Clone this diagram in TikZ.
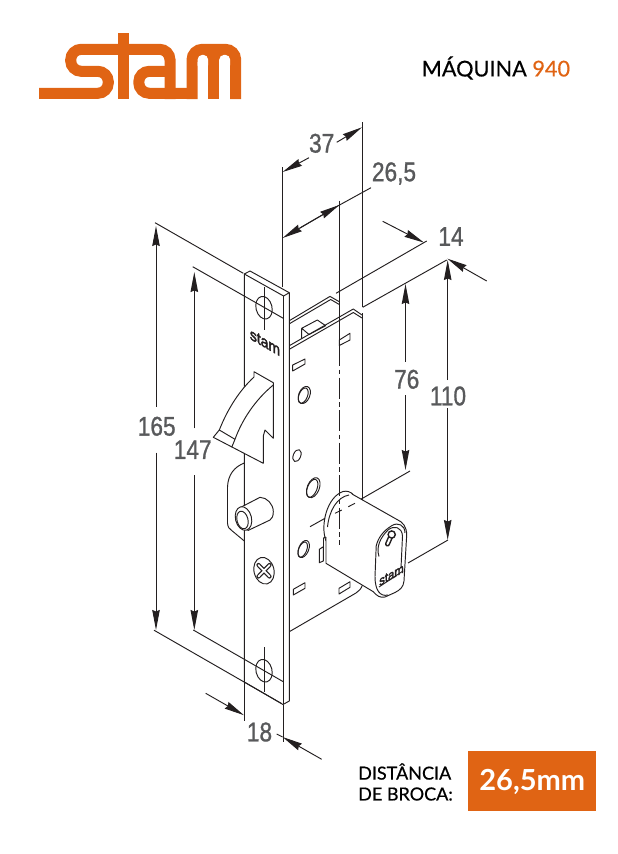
\documentclass[tikz,border=0pt]{standalone}
\usepackage{fontspec}
\usepackage{graphicx}
\usetikzlibrary{arrows.meta}
\setmainfont{Lato}
\newfontfamily\dimfont[FakeBold=1.1]{Liberation Sans}
\newfontfamily\medfont[FakeBold=0.5]{Lato}
\newfontfamily\logofont[FakeBold=3]{Liberation Sans}
\definecolor{ink}{HTML}{231F20}
\definecolor{brand}{HTML}{E06414}
\definecolor{dimgray}{HTML}{58595B}
\newcommand{\dimtext}[1]{\scalebox{0.84}[1]{\fontsize{27}{28}\dimfont #1}}
\tikzset{
  inkline/.style={draw=ink,line width=0.95pt,line join=round},
  partfill/.style={inkline,fill=white},
  dimline/.style={draw=ink,line width=0.95pt},
  dimarrow/.style={dimline,-{Stealth[length=20pt,width=7.5pt,inset=1.5pt]}},
  dimlabel/.style={text=dimgray,inner sep=0pt,anchor=center},
  logostroke/.style={draw=brand,line width=11pt,rounded corners=10.5pt},
  logostem/.style={draw=brand,line width=11pt},
}
\begin{document}
\begin{tikzpicture}[x=1pt,y=-1pt]
\useasboundingbox (0,0) rectangle (618,854);
% ---------- logo
\draw[logostroke] (39,93.3)--(108.3,93.3)--(108.3,71.3)--(70.7,71.3)--(70.7,49.3)--(170,49.3)--(170,99);
\draw[logostem] (123.7,33.3)--(123.7,99);
\draw[logostroke] (170,71.3)--(138.8,71.3)--(138.8,93.3)--(192,93.3);
\draw[logostroke] (192,99)--(192,49.3)--(235.7,49.3)--(235.7,99);
\draw[logostem] (213.7,49.3)--(213.7,99);
\fill[brand] (197,54)--(231,54)--(231,62)--(197,62)--cycle;
\fill[white,rounded corners=5pt] (197.5,70)--(197.5,54.8)--(208.2,54.8)--(208.2,70)--cycle;
\fill[white,rounded corners=5pt] (219.2,70)--(219.2,54.8)--(230.2,54.8)--(230.2,70)--cycle;
\fill[white] (197.5,62)--(208.2,62)--(208.2,99)--(197.5,99)--cycle;
\fill[white] (219.2,62)--(230.2,62)--(230.2,99)--(219.2,99)--cycle;
% ---------- header and badge
\node[anchor=west,inner sep=0pt,font=\fontsize{21.7}{24}\medfont] (title) at (421.5,68) {\textcolor{black}{MÁQUINA} \textcolor{brand}{940}};
\node[anchor=north west,fill=brand,minimum width=128.7pt,minimum height=60pt,inner sep=0pt] (badge) at (467.3,751) {};
\node[text=white,font=\fontsize{29}{32}\bfseries\selectfont,inner sep=0pt] (badgetext) at (532.3,781.5) {26,5mm};
\node[anchor=west,inner sep=0pt,font=\fontsize{18}{22}\medfont] (dist1) at (358,771.5) {DISTÂNCIA};
\node[anchor=west,inner sep=0pt,font=\fontsize{18}{22}\medfont] (dist2) at (358,794) {DE BROCA:};
% ---------- lock case (behind the plate)
\draw[inkline] (289.3,320.7)--(330,296.4)--(339.3,301.7);
\draw[inkline] (289.3,323.8)--(330.7,299.5)--(339.3,304.5);
\draw[inkline] (339.3,301.7)--(339.3,345);
\draw[inkline] (301.7,338.5)--(301.7,328.3)--(317.3,320)--(325.7,325.7)--(309,334.5)--(301.7,328.3);
\draw[inkline] (289.3,345.7)--(353.3,309)--(362,315);
\draw[inkline] (289.3,349.3)--(353.3,312.5)--(362,318);
\draw[inkline] (362,122)--(362,307);
\draw[inkline] (362,313)--(362,500);
\draw[inkline] (289.3,631.7)--(356,593) .. controls (359,591) and (361,589) .. (362.5,585);
% slots
\draw[inkline] (339.3,340)--(350,333.3)--(350,340)--(339.3,345.5)--cycle;
\draw[inkline] (292.7,365)--(305,359)--(305,364)--(292.7,371)--cycle;
\draw[inkline] (293.3,589.3)--(305,582.7)--(305,588.3)--(293.3,595)--cycle;
\draw[inkline] (339,588.3)--(350,581.7)--(350,587.3)--(339,594)--cycle;
% holes
\draw[inkline] (304.3,395) ellipse [x radius=5.5,y radius=9,rotate=-22];
\draw[inkline] (303.2,395.6) ellipse [x radius=4.3,y radius=8,rotate=-22];
\draw[inkline] (297,455.6) ellipse [x radius=3.7,y radius=6.3,rotate=-22];
\draw[inkline] (313.3,487.7) ellipse [x radius=6,y radius=10.5,rotate=-22];
\draw[inkline] (312.2,488.3) ellipse [x radius=4.8,y radius=9.5,rotate=-22];
\draw[inkline] (303.7,549) ellipse [x radius=5,y radius=9,rotate=-22];
\draw[inkline] (302.7,549.6) ellipse [x radius=4,y radius=8,rotate=-22];
% ---------- face plate
\draw[partfill] (244.3,274)--(250,271)--(289.3,292.7)--(289.3,701)--(283,704.5)--(244.3,682)--cycle;
\draw[inkline] (244.3,274)--(283.6,296)--(289.3,292.7);
\draw[inkline] (283.3,296)--(283.3,704);
% plate logo
\node[inner sep=0pt,text=ink,font=\fontsize{16}{16}\logofont,cm={0.87,-0.5,0,1,(265,342.5)}] (platelogo) at (0,0) {stam};
% top and bottom plate screws
\draw[inkline] (264,307.7) ellipse [x radius=8,y radius=11.5,rotate=14];
\draw[inkline] (264,286.7)--(264,330);
\draw[inkline] (264,670.7) ellipse [x radius=8,y radius=11.5,rotate=14];
\draw[inkline] (264,647.3)--(264,691.7);
% middle screw
\draw[inkline] (264,570.7) ellipse [x radius=10,y radius=13.5,rotate=14];
\draw[ink,line width=4.2pt,line cap=round] (258.5,565)--(269.5,576.5) (269.5,565)--(258.5,576.5);
\draw[white,line width=1.8pt,line cap=round] (258.5,565)--(269.5,576.5) (269.5,565)--(258.5,576.5);
% ---------- hook latch
\draw[partfill] (213.3,437.3)--(219.3,430) .. controls (228,408) and (240,390) .. (254,377)--(254,371.7)--(273.3,382.7)--(273.3,438.3)--(265,430)--(263.3,436)--(263.3,463.3)--cycle;
\draw[inkline] (219.3,430)--(235,439.3)--(231.7,447.3);
\draw[inkline] (235,439.3) .. controls (242,420) and (255,400) .. (273.3,385);
% ---------- latch window and pin
\draw[inkline] (244.3,463) .. controls (234,467) and (228,475) .. (227.5,487)--(227.5,523.3) .. controls (228,527) and (229,529) .. (231.7,530.5)--(244.3,541);
\draw[partfill] (240,507.7) -- (260,497.3) .. controls (267,497.5) and (273.3,504) .. (273.3,511.7) .. controls (273.3,516) and (272,519) .. (270,520) -- (248,530.5) -- cycle;
\draw[partfill] (243.5,518.5) ellipse [x radius=8,y radius=12,rotate=14];
\draw[partfill] (242.5,520) ellipse [x radius=5.5,y radius=9,rotate=14];
% ---------- extension and dimension lines
\draw[dimline] (282.3,167)--(282.3,287);
\draw[dimline] (244.3,682)--(244.3,721);
\draw[dimline] (283,705)--(283,741.7);
\draw[dimline] (339.3,200.7)--(339.3,301.7);
\draw[dimline] (426.7,241)--(336,293.3);
\draw[dimline] (446.7,260)--(362.7,307.3);
\draw[dimline] (155,222.7)--(243.3,273.3);
\draw[dimline] (192.7,266.7)--(283.3,318.3);
\draw[dimline] (193.3,630)--(283.3,681.7);
\draw[dimline] (154,630.2)--(281.7,703.6);
\draw[dimline] (410,471)--(361.3,499);
% 37
\node[dimlabel] (d37) at (321.7,143.3) {\dimtext{37}};
\draw[dimarrow] (309,157.7)--(282.6,172);
\draw[dimarrow] (336.7,142.3)--(362,127.3);
% 26,5
\node[dimlabel] (d265) at (394,173.5) {\dimtext{26,5}};
\draw[dimarrow] (339,205.3)--(282.6,238);
\draw[dimarrow] (300,228)--(339.3,205);
\draw[dimline] (339,205.3)--(371,187.7);
% 14
\node[dimlabel] (d14) at (451,236.5) {\dimtext{14}};
\draw[dimarrow] (382.7,221.3)--(424,242.6);
\draw[dimarrow] (486.7,281)--(447.3,258.6);
% 76
\node[dimlabel] (d76) at (406.7,379.3) {\dimtext{76}};
\draw[dimarrow] (405.5,361.7)--(405.5,284);
\draw[dimarrow] (405.5,395)--(405.5,470);
% 110
\node[dimlabel] (d110) at (448,396) {\dimtext{110}};
\draw[dimarrow] (447.7,380)--(447.7,260);
\draw[dimarrow] (447.7,408)--(447.7,540);
\draw[dimline] (448,540)--(408,563);
% 165
\node[dimlabel] (d165) at (156.7,426.3) {\dimtext{165}};
\draw[dimarrow] (156,406.7)--(156,226);
\draw[dimarrow] (156,452.7)--(156,630);
% 147
\node[dimlabel] (d147) at (192.7,449.7) {\dimtext{147}};
\draw[dimarrow] (194.3,428.3)--(194.3,272);
\draw[dimarrow] (194.3,475)--(194.3,630);
% 18
\node[dimlabel] (d18) at (259.5,732) {\dimtext{18}};
\draw[dimarrow] (205.7,693.3)--(244,715.2);
\draw[dimarrow] (321.7,759.3)--(282.6,737);
\draw[dimline] (282.6,737)--(276.7,734);
% ---------- cylinder
\fill[white] (326,541) .. controls (320,525) and (327,497) .. (343,491.5) .. controls (347,490.5) and (351,492) .. (353,494.5) -- (345,530) -- cycle;
\draw[inkline] (326,541) .. controls (320,525) and (327,497) .. (343,491.5) .. controls (347,490.5) and (351,492) .. (353,494.5);
\fill[white] (326,563.3)--(326,536) .. controls (326,520) and (337,498) .. (352,494)--(397,519.5) .. controls (403,522) and (406.7,527) .. (406.7,535)--(404,581) .. controls (403.5,587) and (400,590) .. (395,592.5)--(385,597) .. controls (380,598) and (377,596) .. (373.3,591.7)--cycle;
\draw[inkline] (352,494)--(397,519.5) .. controls (403,522) and (406.7,527) .. (406.7,535)--(404,581) .. controls (403.5,587) and (400,590) .. (395,592.5)--(385,597) .. controls (380,598) and (377,596) .. (373.3,591.7)--(326,563.3)--(326,537);
\draw[inkline] (327.5,527) .. controls (329,511) and (337,497) .. (349,495);
\draw[partfill] (319.3,549.3)--(323.3,546.7)--(323.3,561)--(319.3,562.7)--cycle;
\draw[inkline] (323.5,547)--(323.5,538)--(326,537);
\draw[inkline] (375,576.7)--(376.2,546) .. controls (378,538) and (383,531) .. (392,525.5) .. controls (398,522) and (405,525) .. (405,533);
\draw[inkline] (375,576.7) .. controls (375,590) and (380,597) .. (388,595);
\draw[inkline] (379,556.5) .. controls (376,547) and (380,538) .. (388,530) .. controls (394,525) and (402,527) .. (402.5,536)--(401,568);
\draw[ink,line width=5pt,line cap=round] (387.5,544)--(391,536);
\draw[white,line width=2pt,line cap=round] (387.5,544)--(391,536);
\draw[ink,line width=1.4pt,fill=white] (391.7,534.5) circle [radius=3.6];
\node[inner sep=0pt,text=ink,font=\fontsize{13}{13}\logofont,cm={0.87,0.5,0,1,(391.5,575)}] (cyllogo) at (0,0) {stam};
\draw[inkline] (379,587)--(403,571);
% gaps of the 76 line crossing the flange
\draw[dimline] (348.3,506.7)--(355,503.3);
\draw[dimline] (335,513.3)--(341.7,510);
\draw[dimline] (310,526.7)--(325,518.3);
% centre line
\draw[dimline,dash pattern=on 21pt off 3.5pt on 4.5pt off 3.5pt] (339.3,345)--(339.3,545);
\end{tikzpicture}
\end{document}
